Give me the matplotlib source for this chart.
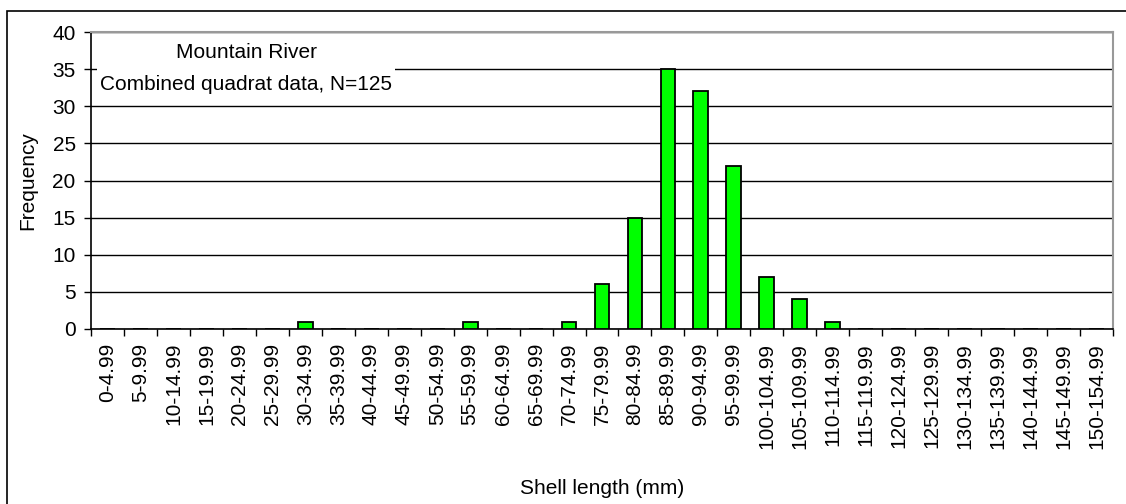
import matplotlib.pyplot as plt
import numpy as np
from matplotlib.patches import Rectangle

plt.rcParams['font.family'] = ['Liberation Sans', 'DejaVu Sans']

# size classes (mm)
klassen = ['0-4.99', '5-9.99', '10-14.99', '15-19.99', '20-24.99', '25-29.99',
           '30-34.99', '35-39.99', '40-44.99', '45-49.99', '50-54.99', '55-59.99',
           '60-64.99', '65-69.99', '70-74.99', '75-79.99', '80-84.99', '85-89.99',
           '90-94.99', '95-99.99', '100-104.99', '105-109.99', '110-114.99',
           '115-119.99', '120-124.99', '125-129.99', '130-134.99', '135-139.99',
           '140-144.99', '145-149.99', '150-154.99']
gyakorisag = [0, 0, 0, 0, 0, 0, 1, 0, 0, 0, 0, 1, 0, 0, 1, 6, 15, 35, 32, 22,
              7, 4, 1, 0, 0, 0, 0, 0, 0, 0, 0]
y_ticks = [0, 5, 10, 15, 20, 25, 30, 35, 40]

FS = 15
W, H = 1126, 504
fig = plt.figure(figsize=(W / 100, H / 100), dpi=100)
ax = fig.add_axes([91 / W, 1 - 329 / H, (1113 - 91) / W, (329 - 32) / H])

x = np.arange(len(klassen))
ax.bar(x, gyakorisag, width=0.45, color='#00FF00', edgecolor='black', linewidth=1.3, zorder=3)

ax.set_xlim(-0.5, len(klassen) - 0.5)
ax.set_ylim(0, 40)
ax.set_yticks(y_ticks)
ax.set_yticklabels([str(v) for v in y_ticks], fontsize=FS)
ax.yaxis.grid(True, color='black', linewidth=1.0, zorder=0)

# category labels, tick marks between categories
ax.set_xticks(x)
ax.set_xticklabels(klassen, rotation=90, fontsize=FS)
ax.tick_params(axis='x', length=0, pad=10)
ax.set_xticks(np.arange(-0.5, len(klassen)), minor=True)
ax.tick_params(axis='x', which='minor', length=5, width=1, color='black')
ax.tick_params(axis='y', length=5, width=1, pad=6)

for s in ['top', 'right']:
    ax.spines[s].set_color('#999999')
    ax.spines[s].set_linewidth(1.5)
for s in ['left', 'bottom']:
    ax.spines[s].set_color('black')
    ax.spines[s].set_linewidth(1.2)

ax.set_ylabel('Frequency', fontsize=FS)
ax.yaxis.set_label_coords(-(91 - 37) / 1022, 0.5)
ax.set_xlabel('Shell length (mm)', fontsize=FS)
ax.xaxis.set_label_coords(0.5, -(488 - 329) / 297)
ax.xaxis.label.set_va('center')

ax.text((246 - 91) / 1022, 1 - (68.5 - 32) / 297, 'Mountain River\nCombined quadrat data, N=125',
        transform=ax.transAxes, ha='center', va='center', fontsize=FS,
        multialignment='center', linespacing=1.8,
        bbox=dict(facecolor='white', edgecolor='none', pad=2), zorder=5)

fig.patches.append(Rectangle((7 / W, -0.1), 1.2, 1.1 - 11 / H,
                             transform=fig.transFigure, fill=False,
                             edgecolor='black', linewidth=1.2))

fig.savefig('out.png', dpi=100)
